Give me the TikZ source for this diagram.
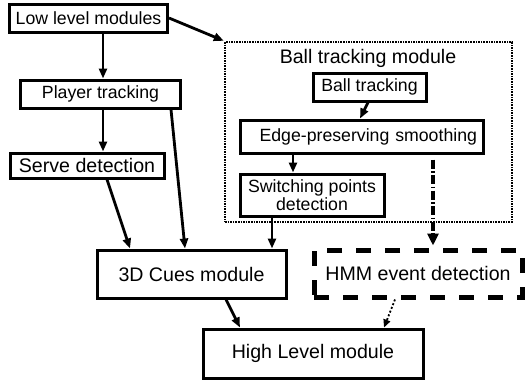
\documentclass[tikz,border=0pt]{standalone}
\usepackage{fontspec}
\setmainfont{Liberation Sans}
\usetikzlibrary{arrows.meta}
\begin{document}
\begin{tikzpicture}[x=1pt,y=-1pt,
  box/.style={draw=black,line width=3pt,inner sep=0pt,fill=white},
  smallfont/.style={font=\fontsize{17.7}{18.5}\selectfont},
  bigfont/.style={font=\fontsize{19.6}{21}\selectfont},
  arr/.style={line width=2.8pt,-{Triangle[length=10pt,width=8pt]}},
  dotbox/.style={draw=black,line width=2.4pt,dash pattern=on 1.6pt off 1pt,inner sep=0pt},
  hmmbox/.style={draw=black,line width=5pt,dash pattern=on 15pt off 14pt,inner sep=0pt},
  dashdot/.style={line width=3.2pt,dash pattern=on 9pt off 2.5pt on 1.5pt off 2.5pt,-{Triangle[length=12pt,width=11pt]}},
  dotarr/.style={line width=1.8pt,dash pattern=on 2pt off 2pt,-{Triangle[length=8pt,width=7pt]}}
]
\useasboundingbox (0,0) rectangle (530,381);
% ball tracking module container
\node[dotbox,minimum width=287pt,minimum height=180pt] (ballmod) at (368.5,132) {};
\node[bigfont,inner sep=0pt] (title) at (368,58) {Ball tracking module};
\node[box,smallfont,minimum width=158pt,minimum height=28pt] (low) at (88.5,18) {Low level modules};
\node[box,smallfont,minimum width=160pt,minimum height=28pt] (player) at (100.5,94) {Player tracking};
\node[box,bigfont,minimum width=154pt,minimum height=25pt] (serve) at (87,165.5) {Serve detection};
\node[box,smallfont,minimum width=113pt,minimum height=28pt] (ball) at (369.5,87) {Ball tracking};
\node[box,smallfont,minimum width=243pt,minimum height=33pt,text width=231pt,align=right,inner xsep=6pt] (edge) at (361.5,136.5) {Edge-preserving smoothing};
\node[box,smallfont,minimum width=144pt,minimum height=42pt,align=center] (switch) at (312,195) {Switching points\\detection};
\node[box,bigfont,minimum width=189pt,minimum height=48pt] (cues) at (191.5,274) {3D Cues module};
\node[hmmbox,bigfont,minimum width=208pt,minimum height=47pt] (hmm) at (418,273.5) {HMM event detection};
\node[box,bigfont,minimum width=220pt,minimum height=49pt] (high) at (313,353.5) {High Level module};
% connectors
\draw[arr] ([xshift=14.5pt]low.south) -- ([xshift=2.5pt]player.north);
\draw[arr] (low.east) -- (ballmod.north west);
\draw[arr] ([xshift=2.5pt]player.south) -- ([xshift=16pt]serve.north);
\draw[arr] ([xshift=20pt]serve.south) -- ([xshift=-61.5pt]cues.north);
\draw[arr] ([xshift=70.5pt]player.south) -- ([xshift=-6.5pt]cues.north);
\draw[arr] ([xshift=-1.5pt]ball.south) -- ([xshift=-1.5pt]edge.north);
\draw[arr] ([xshift=-68.5pt]edge.south) -- ([xshift=-19pt]switch.north);
\draw[arr] ([xshift=-40pt]switch.south) -- ([xshift=80.5pt]cues.north);
\draw[dashdot] ([xshift=71.5pt,yshift=-5pt]edge.south) -- ([xshift=15pt,yshift=2pt]hmm.north);
\draw[arr] ([xshift=34.5pt]cues.south) -- ([xshift=-73pt]high.north);
\draw[dotarr] ([xshift=-23pt]hmm.south) -- ([xshift=71pt]high.north);
\end{tikzpicture}
\end{document}
